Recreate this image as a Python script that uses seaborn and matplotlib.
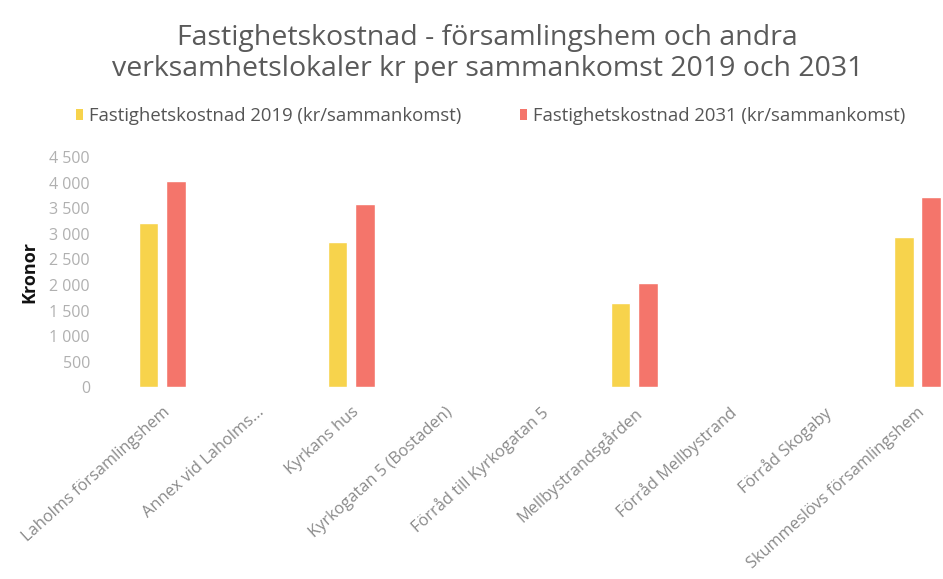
import matplotlib
matplotlib.use("Agg")
import matplotlib.pyplot as plt
import seaborn as sns
import pandas as pd
from matplotlib.ticker import FuncFormatter, MultipleLocator
from matplotlib.patches import Patch

categories = [
    "Laholms församlingshem",
    "Annex vid Laholms...",
    "Kyrkans hus",
    "Kyrkogatan 5 (Bostaden)",
    "Förråd till Kyrkogatan 5",
    "Mellbystrandsgården",
    "Förråd Mellbystrand",
    "Förråd Skogaby",
    "Skummeslövs församlingshem",
]
series_names = ["Fastighetskostnad 2019 (kr/sammankomst)",
                "Fastighetskostnad 2031 (kr/sammankomst)"]
values_2019 = [3210, 0, 2840, 0, 0, 1650, 0, 0, 2940]
values_2031 = [4030, 0, 3580, 0, 0, 2040, 0, 0, 3720]
colors = ["#F7D34C", "#F4756B"]

df = pd.DataFrame({
    "Kategori": categories * 2,
    "Serie": [series_names[0]] * len(categories) + [series_names[1]] * len(categories),
    "Kronor": values_2019 + values_2031,
})

sns.set_theme(style="white")
plt.rcParams["font.family"] = ["Open Sans", "DejaVu Sans"]

fig = plt.figure(figsize=(9.43, 5.79), dpi=100)
ax = fig.add_axes([0.122, 0.331, 0.901, 0.398])

sns.barplot(data=df, x="Kategori", y="Kronor", hue="Serie", order=categories,
            hue_order=series_names, palette=colors, width=0.58, gap=0.28,
            saturation=1, ax=ax, legend=False)

ax.set_xlim(-0.5, len(categories) - 0.5)
ax.set_ylim(0, 4500)
ax.yaxis.set_major_locator(MultipleLocator(500))
ax.yaxis.set_major_formatter(FuncFormatter(lambda v, p: f"{int(v):,}".replace(",", " ")))
for s in ax.spines.values():
    s.set_visible(False)
ax.tick_params(axis="y", length=0, labelsize=11.5, labelcolor="#B0B0B0", pad=18)
ax.tick_params(axis="x", length=0, labelsize=11.8, labelcolor="#8A8A8A", pad=12)
for lab in ax.get_xticklabels():
    lab.set_rotation(42)
    lab.set_ha("right")
    lab.set_rotation_mode("anchor")
ax.set_xlabel("")
ax.set_ylabel("Kronor", fontsize=13, fontweight="bold", color="#111111", labelpad=8)

fig.text(0.517, 0.935, "Fastighetskostnad - församlingshem och andra",
         ha="center", va="center", fontsize=20.5, color="#5A5A5A")
fig.text(0.517, 0.88, "verksamhetslokaler kr per sammankomst 2019 och 2031",
         ha="center", va="center", fontsize=20.5, color="#5A5A5A")

handles = [Patch(facecolor=c, edgecolor="none") for c in colors]
fig.legend(handles, series_names, loc="center", bbox_to_anchor=(0.52, 0.80),
           ncol=2, frameon=False, fontsize=13.3, labelcolor="#555555",
           handlelength=0.4, handleheight=0.5, handletextpad=0.3, columnspacing=3.2)

fig.savefig("out.png", dpi=100, facecolor="white")
